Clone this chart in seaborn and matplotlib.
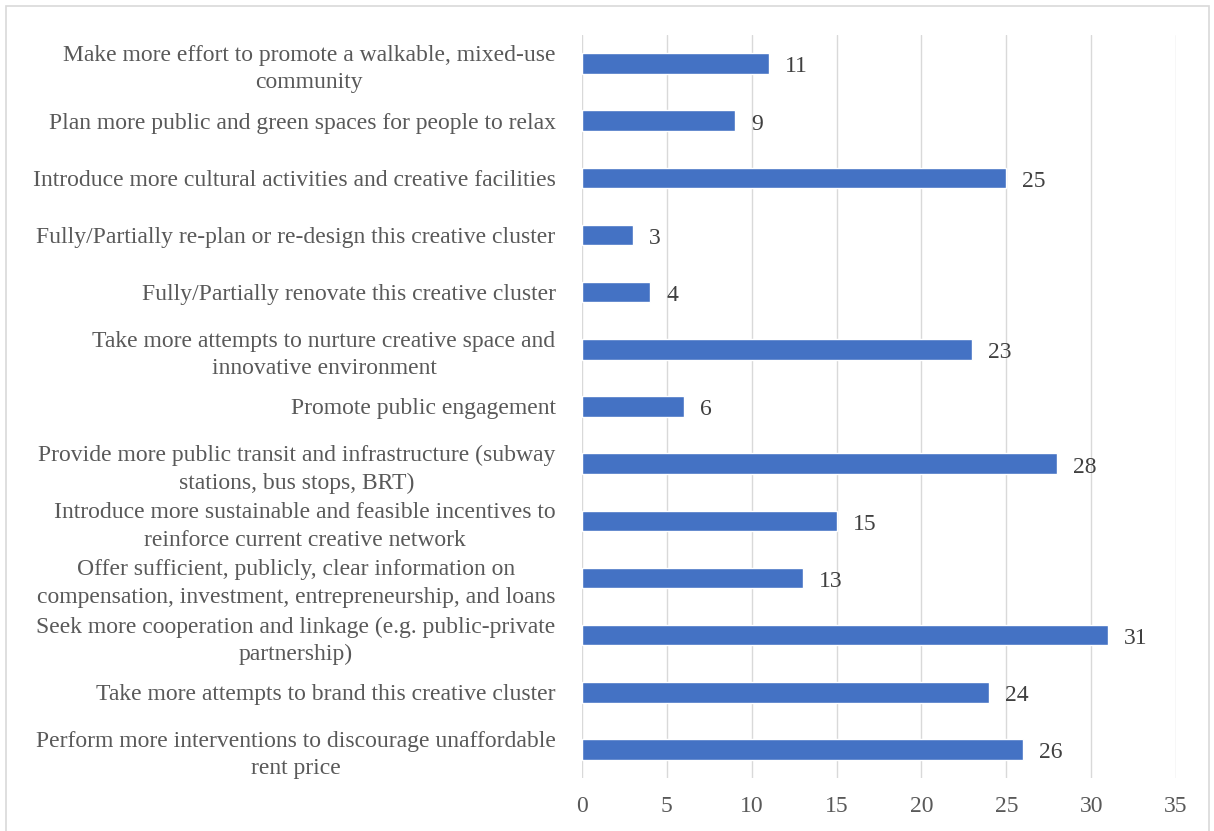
import seaborn as sns
import matplotlib.pyplot as plt
import pandas as pd
from matplotlib.patches import Rectangle

measures = [
    "Make more effort to promote a walkable, mixed-use\ncommunity",
    "Plan more public and green spaces for people to relax",
    "Introduce more cultural activities and creative facilities",
    "Fully/Partially re-plan or re-design this creative cluster",
    "Fully/Partially renovate this creative cluster",
    "Take more attempts to nurture creative space and\ninnovative environment",
    "Promote public engagement",
    "Provide more public transit and infrastructure (subway\nstations, bus stops, BRT)",
    "Introduce more sustainable and feasible incentives to\nreinforce current creative network",
    "Offer sufficient, publicly, clear information on\ncompensation, investment, entrepreneurship, and loans",
    "Seek more cooperation and linkage (e.g. public-private\npartnership)",
    "Take more attempts to brand this creative cluster",
    "Perform more interventions to discourage unaffordable\nrent price",
]
counts = [11, 9, 25, 3, 4, 23, 6, 28, 15, 13, 31, 24, 26]
xticks = [0, 5, 10, 15, 20, 25, 30, 35]

df = pd.DataFrame({"measure": measures, "count": counts})

sns.set_style("white")
plt.rcParams["font.family"] = ["Liberation Serif", "DejaVu Serif"]

fig = plt.figure(figsize=(12.14, 8.31), dpi=100)
ax = fig.add_axes([0.4794, 0.0638, 0.9687 - 0.4794, 0.9579 - 0.0638])

sns.barplot(data=df, x="count", y="measure", color="#4472C4", saturation=1,
            width=0.36, ax=ax)

for i, v in enumerate(counts):
    ax.text(v + 0.95, i + 0.06, str(v), ha="left", va="center",
            fontsize=17, color="#404040")

ax.set_xlim(0, 35)
ax.set_ylim(12.5, -0.5)
ax.set_xticks(xticks)
ax.set_xlabel("")
ax.set_ylabel("")
ax.grid(axis="x", color="#D9D9D9", linewidth=1)
ax.set_axisbelow(True)
for s in ax.spines.values():
    s.set_visible(False)
ax.tick_params(axis="both", length=0, labelsize=17, labelcolor="#595959")
ax.tick_params(axis="x", pad=13)
ax.tick_params(axis="y", pad=19)
for lab in ax.get_yticklabels():
    lab.set_multialignment("center")
    lab.set_linespacing(1.4)

fig.patches.append(Rectangle((6 / 1214, -0.01), 1203 / 1214, 1.01 - 6 / 831,
                             transform=fig.transFigure, fill=False,
                             edgecolor="#D9D9D9", linewidth=1.2))

fig.savefig("out.png", dpi=100)
